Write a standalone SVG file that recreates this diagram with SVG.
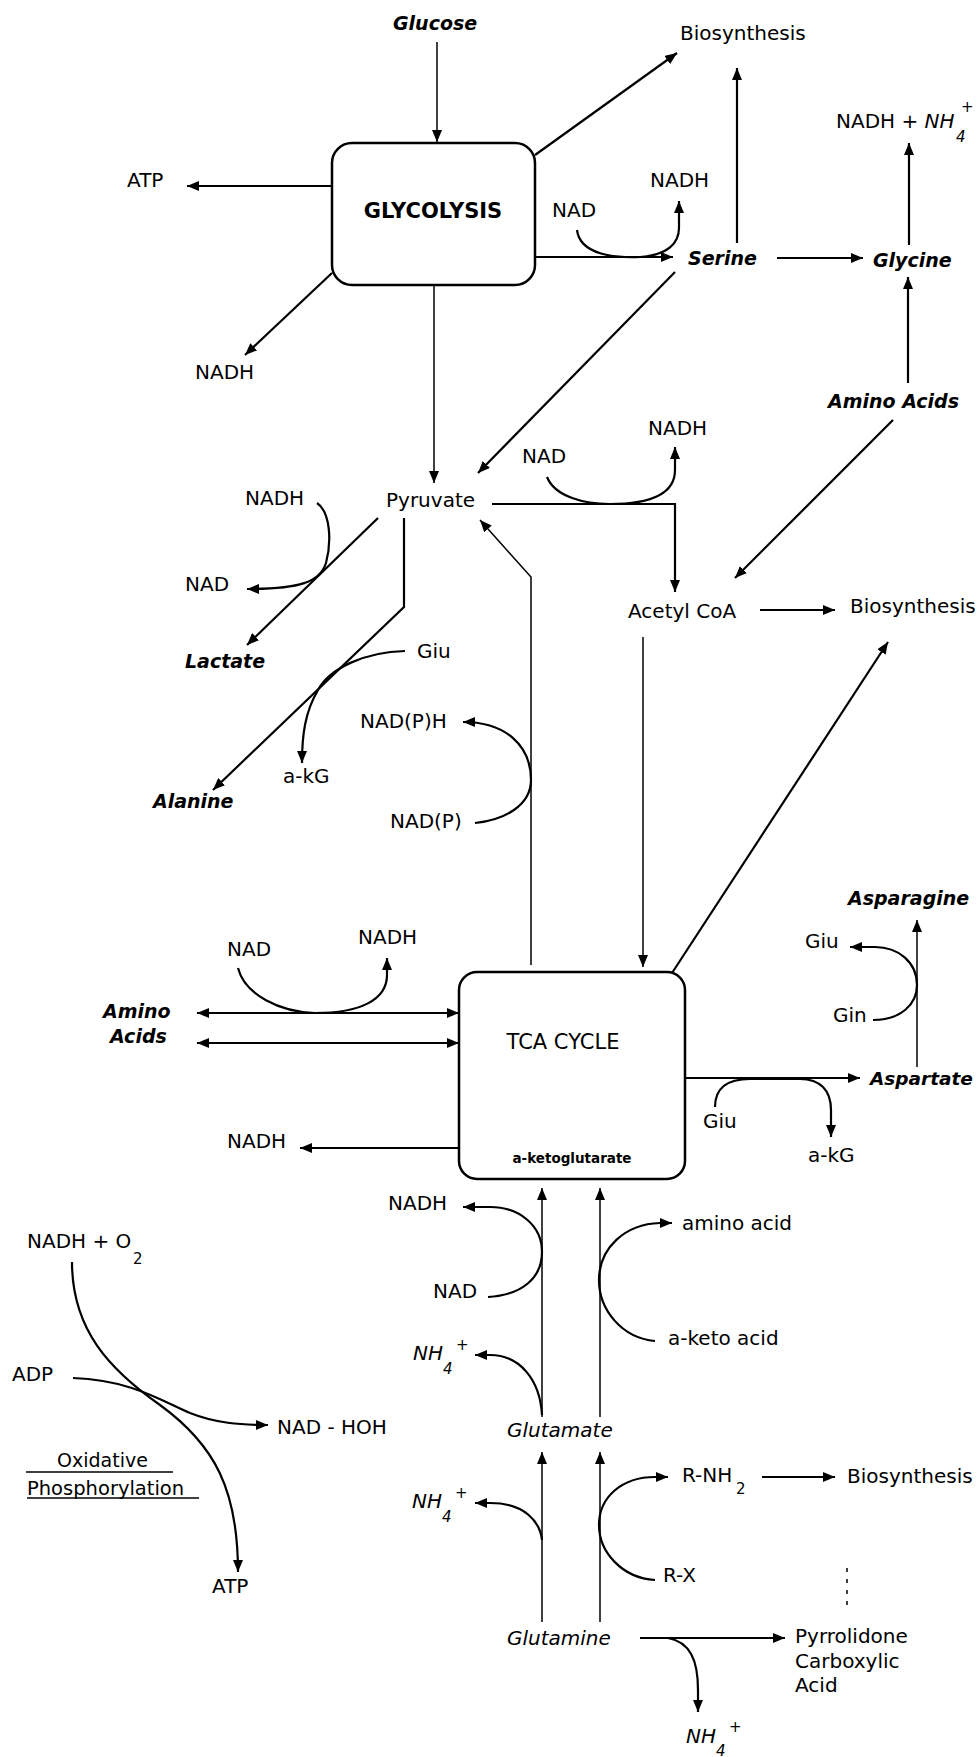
<svg xmlns="http://www.w3.org/2000/svg" width="977" height="1757" viewBox="0 0 977 1757">
<style>
.t{font-family:"DejaVu Sans","Liberation Sans",sans-serif;font-size:20px;fill:#000}
.bi{font-weight:bold;font-style:italic;font-size:19px}
.i{font-style:italic}
.sm{font-size:15px}
.box{fill:#fff;stroke:#000;stroke-width:2.5}
.c{fill:none;stroke:#000;stroke-width:2.2}
.thin{stroke-width:1.5}
.a{marker-end:url(#ah)}
.d{marker-start:url(#ah);marker-end:url(#ah)}
</style>
<defs>
<marker id="ah" viewBox="0 0 12 10" refX="12" refY="5" markerWidth="12" markerHeight="10" markerUnits="userSpaceOnUse" orient="auto-start-reverse"><path d="M0,0 L12,5 L0,10 z" fill="#000"/></marker>
</defs>
<rect width="977" height="1757" fill="#fff"/>

<g id="connectors">
<path class="c thin a" d="M437,42 L437,142"/>
<path class="c a" d="M331,186 L187,186"/>
<path class="c a" d="M332,273 L245,355"/>
<path class="c a" d="M535,155 L677,53"/>
<path class="c a" d="M535,257 L673,257"/>
<path class="c a" d="M577,230 C580,255 615,258 640,257 C668,255 679,243 679,228 L679,201"/>
<path class="c a" d="M737,243 L737,68"/>
<path class="c a" d="M777,258 L863,258"/>
<path class="c a" d="M909,245 L909,143"/>
<path class="c a" d="M908,383 L908,277"/>
<path class="c thin a" d="M434,285 L434,483"/>
<path class="c a" d="M675,272 L478,473"/>
<path class="c a" d="M378,518 L247,645"/>
<path class="c a" d="M317,503 C330,512 332,540 326,563 C320,582 300,589 247,589"/>
<path class="c a" d="M404,518 L404,607 L213,790"/>
<path class="c a" d="M405,651 C365,652 330,668 318,690 C305,712 302,735 302,763"/>
<path class="c a" d="M492,504 L675,504 L675,592"/>
<path class="c a" d="M547,477 C555,497 585,504 610,504 C650,504 675,495 675,470 L675,447"/>
<path class="c a" d="M893,420 L735,578"/>
<path class="c a" d="M760,610 L835,610"/>
<path class="c thin a" d="M643,637 L643,967"/>
<path class="c thin a" d="M531,965 L531,577 L480,520"/>
<path class="c a" d="M475,823 C505,820 531,805 531,780 C531,745 505,722 463,722"/>
<path class="c a" d="M672,973 L888,642"/>
<path class="c d" d="M197,1013 L459,1013"/>
<path class="c d" d="M197,1043 L459,1043"/>
<path class="c a" d="M238,968 C245,995 280,1012 315,1013 C360,1013 387,1000 387,975 L387,958"/>
<path class="c a" d="M459,1148 L300,1148"/>
<path class="c a" d="M685,1078 L860,1078"/>
<path class="c a" d="M715,1107 C715,1090 725,1079 750,1079 L800,1079 C820,1079 831,1090 831,1110 L831,1137"/>
<path class="c thin a" d="M917,1067 L917,920"/>
<path class="c a" d="M873,1020 C900,1020 917,1005 917,985 C917,962 898,947 875,947 L850,947"/>
<path class="c thin a" d="M542,1417 L542,1188"/>
<path class="c thin a" d="M600,1417 L600,1188"/>
<path class="c a" d="M488,1297 C522,1295 542,1278 542,1252 C542,1226 520,1207 490,1207 L463,1207"/>
<path class="c a" d="M542,1415 C540,1380 520,1355 490,1355 L475,1355"/>
<path class="c a" d="M655,1341 C622,1338 599,1310 599,1280 C599,1248 625,1224 660,1223 L672,1223"/>
<path class="c thin a" d="M542,1622 L542,1452"/>
<path class="c thin a" d="M600,1622 L600,1452"/>
<path class="c a" d="M542,1540 C540,1522 525,1503 490,1503 L475,1503"/>
<path class="c a" d="M655,1580 C622,1578 599,1552 599,1525 C599,1497 622,1477 655,1477 L668,1477"/>
<path class="c a" d="M762,1477 L835,1477"/>
<path class="c thin" stroke-dasharray="4 7" d="M847,1568 L847,1605"/>
<path class="c a" d="M640,1638 L785,1638"/>
<path class="c a" d="M668,1638 C690,1642 698,1660 698,1690 L698,1712"/>
<path class="c a" d="M72,1262 C72,1330 110,1370 160,1405 C215,1445 238,1490 238,1572"/>
<path class="c a" d="M73,1378 C130,1380 160,1400 190,1413 C215,1423 240,1425 268,1425"/>
<path class="c thin" d="M26,1472 L173,1472"/>
<path class="c thin" d="M27,1498 L199,1498"/>
</g>

<g id="glycolysis">
<rect class="box" x="332" y="143" width="203" height="142" rx="20"/>
<text class="t" x="433" y="218" text-anchor="middle" style="font-size:21px;font-weight:bold">GLYCOLYSIS</text>
</g>
<g id="tca">
<rect class="box" x="459" y="972" width="226" height="207" rx="18"/>
<text class="t" x="563" y="1049" text-anchor="middle" style="font-size:21px">TCA CYCLE</text>
<text class="t" x="572" y="1163" text-anchor="middle" style="font-size:13.5px;font-weight:bold">a-ketoglutarate</text>
</g>

<g id="glucose"><text class="t bi" x="393" y="30">Glucose</text></g>
<g id="biosynthesis1"><text class="t" x="680" y="40">Biosynthesis</text></g>
<g id="nadh-nh4-top"><text class="t" x="836" y="128">NADH + <tspan font-style="italic">NH</tspan></text><text class="t sm i" x="956" y="142">4</text><text class="t sm" x="961" y="112">+</text></g>
<g id="atp1"><text class="t" x="127" y="187">ATP</text></g>
<g id="nad1"><text class="t" x="552" y="217">NAD</text></g>
<g id="nadh1"><text class="t" x="650" y="187">NADH</text></g>
<g id="serine"><text class="t bi" x="688" y="265">Serine</text></g>
<g id="glycine"><text class="t bi" x="873" y="267">Glycine</text></g>
<g id="nadh2"><text class="t" x="195" y="379">NADH</text></g>
<g id="amino-acids-r"><text class="t bi" x="828" y="408">Amino Acids</text></g>
<g id="nadh3"><text class="t" x="648" y="435">NADH</text></g>
<g id="nad3"><text class="t" x="522" y="463">NAD</text></g>
<g id="nadh4"><text class="t" x="245" y="505">NADH</text></g>
<g id="pyruvate"><text class="t" x="386" y="507">Pyruvate</text></g>
<g id="nad4"><text class="t" x="185" y="591">NAD</text></g>
<g id="acetylcoa"><text class="t" x="628" y="618">Acetyl CoA</text></g>
<g id="biosynthesis2"><text class="t" x="850" y="613">Biosynthesis</text></g>
<g id="glu1"><text class="t" x="417" y="658">Giu</text></g>
<g id="lactate"><text class="t bi" x="185" y="668">Lactate</text></g>
<g id="nadph"><text class="t" x="360" y="728">NAD(P)H</text></g>
<g id="akg1"><text class="t" x="283" y="783">a-kG</text></g>
<g id="alanine"><text class="t bi" x="153" y="808">Alanine</text></g>
<g id="nadp"><text class="t" x="390" y="828">NAD(P)</text></g>
<g id="asparagine"><text class="t bi" x="848" y="905">Asparagine</text></g>
<g id="nad5"><text class="t" x="227" y="956">NAD</text></g>
<g id="nadh5"><text class="t" x="358" y="944">NADH</text></g>
<g id="glu2"><text class="t" x="805" y="948">Giu</text></g>
<g id="gln"><text class="t" x="833" y="1022">Gin</text></g>
<g id="amino-acids-l"><text class="t bi" x="103" y="1018">Amino</text><text class="t bi" x="110" y="1043">Acids</text></g>
<g id="aspartate"><text class="t bi" x="870" y="1085" style="font-size:18.5px">Aspartate</text></g>
<g id="glu3"><text class="t" x="703" y="1128">Giu</text></g>
<g id="akg2"><text class="t" x="808" y="1162">a-kG</text></g>
<g id="nadh6"><text class="t" x="227" y="1148">NADH</text></g>
<g id="nadh7"><text class="t" x="388" y="1210">NADH</text></g>
<g id="aminoacid"><text class="t" x="682" y="1230">amino acid</text></g>
<g id="nadh-o2"><text class="t" x="27" y="1248">NADH + O</text><text class="t sm" x="133" y="1264">2</text></g>
<g id="nad6"><text class="t" x="433" y="1298">NAD</text></g>
<g id="ketoacid"><text class="t" x="668" y="1345">a-keto acid</text></g>
<g id="nh4-1"><text class="t i" x="413" y="1360">NH</text><text class="t sm i" x="443" y="1374">4</text><text class="t sm" x="456" y="1350">+</text></g>
<g id="adp"><text class="t" x="12" y="1381">ADP</text></g>
<g id="nad-hoh"><text class="t" x="277" y="1434">NAD - HOH</text></g>
<g id="glutamate"><text class="t i" x="507" y="1437">Glutamate</text></g>
<g id="oxphos"><text class="t" x="57" y="1467" style="font-size:19px">Oxidative</text><text class="t" x="27" y="1495" style="font-size:19.5px">Phosphorylation</text></g>
<g id="rnh2"><text class="t" x="682" y="1482">R-NH</text><text class="t sm" x="736" y="1494">2</text></g>
<g id="biosynthesis3"><text class="t" x="847" y="1483">Biosynthesis</text></g>
<g id="nh4-2"><text class="t i" x="412" y="1508">NH</text><text class="t sm i" x="442" y="1522">4</text><text class="t sm" x="455" y="1498">+</text></g>
<g id="rx"><text class="t" x="663" y="1582">R-X</text></g>
<g id="atp2"><text class="t" x="212" y="1593">ATP</text></g>
<g id="glutamine"><text class="t i" x="507" y="1645">Glutamine</text></g>
<g id="pca"><text class="t" x="795" y="1643">Pyrrolidone</text><text class="t" x="795" y="1668">Carboxylic</text><text class="t" x="795" y="1692">Acid</text></g>
<g id="nh4-3"><text class="t i" x="686" y="1743">NH</text><text class="t sm i" x="716" y="1756">4</text><text class="t sm" x="729" y="1732">+</text></g>
</svg>
